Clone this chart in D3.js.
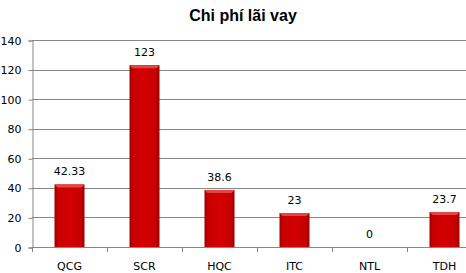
<!DOCTYPE html>
<html>
<head>
<meta charset="utf-8">
<script src="https://cdn.jsdelivr.net/npm/d3@7"></script>
<style>
  body { margin: 0; background: #fff; }
  svg { display: block; }
</style>
</head>
<body>
<div id="chart-area"></div>
<script>
// Data
const categories = ['QCG', 'SCR', 'HQC', 'ITC', 'NTL', 'TDH'];
const values = [42.33, 123, 38.6, 23, 0, 23.7];
const valueLabels = ['42.33', '123', '38.6', '23', '0', '23.7'];
const yTicks = [0, 20, 40, 60, 80, 100, 120, 140];

const width = 466;
const height = 273;
const margin = { left: 32, top: 40, bottom: 26 };
const plotRight = margin.left + 75 * categories.length; // plot runs past the right edge
const plotBottom = height - margin.bottom;

const svg = d3.select('#chart-area')
    .append('svg')
    .attr('width', width)
    .attr('height', height);

// Bar gradient (Excel-ish bevel)
const defs = svg.append('defs');
const grad = defs.append('linearGradient')
    .attr('id', 'barGrad')
    .attr('x1', 0).attr('x2', 1).attr('y1', 0).attr('y2', 0);
grad.append('stop').attr('offset', '0%').attr('stop-color', '#a00000');
grad.append('stop').attr('offset', '12%').attr('stop-color', '#c80000');
grad.append('stop').attr('offset', '50%').attr('stop-color', '#d40000');
grad.append('stop').attr('offset', '88%').attr('stop-color', '#c40000');
grad.append('stop').attr('offset', '100%').attr('stop-color', '#9a0000');

// Scales
const x = d3.scaleBand()
    .domain(categories)
    .range([margin.left, plotRight])
    .paddingInner(0.6)
    .paddingOuter(0.3);

const xBand = d3.scaleBand()
    .domain(categories)
    .range([margin.left, plotRight]);

const y = d3.scaleLinear()
    .domain([0, 140])
    .range([plotBottom, margin.top]);

// Title
svg.append('text')
    .attr('x', 243)
    .attr('y', 21)
    .attr('text-anchor', 'middle')
    .attr('font-family', 'Liberation Sans, Arial, sans-serif')
    .attr('font-weight', 'bold')
    .attr('font-size', '16px')
    .attr('fill', '#000')
    .text('Chi phí lãi vay');

// Gridlines
svg.append('g')
    .selectAll('line')
    .data(yTicks.filter((d) => d > 0))
    .enter()
    .append('line')
    .attr('x1', margin.left)
    .attr('x2', width)
    .attr('y1', (d) => Math.round(y(d)) + 0.5)
    .attr('y2', (d) => Math.round(y(d)) + 0.5)
    .attr('stroke', '#868686')
    .attr('stroke-width', 1);

// Y axis
const yAxisCall = d3.axisLeft(y)
    .tickValues(yTicks)
    .tickSize(4)
    .tickPadding(7);
const yAxisGroup = svg.append('g')
    .attr('transform', `translate(${margin.left + 0.5}, 0.5)`)
    .call(yAxisCall);
yAxisGroup.select('.domain').attr('stroke', '#868686');
yAxisGroup.selectAll('.tick line').attr('stroke', '#868686');
yAxisGroup.selectAll('.tick text')
    .attr('font-family', 'DejaVu Sans, Verdana, sans-serif')
    .attr('font-size', '11px')
    .attr('fill', '#000');

// X axis
svg.append('line')
    .attr('x1', margin.left)
    .attr('x2', width)
    .attr('y1', plotBottom + 0.5)
    .attr('y2', plotBottom + 0.5)
    .attr('stroke', '#868686');

svg.append('g')
    .selectAll('line')
    .data(categories)
    .enter()
    .append('line')
    .attr('x1', (d) => Math.round(xBand(d)) + 0.5)
    .attr('x2', (d) => Math.round(xBand(d)) + 0.5)
    .attr('y1', plotBottom)
    .attr('y2', plotBottom + 5)
    .attr('stroke', '#868686');

svg.append('g')
    .selectAll('text')
    .data(categories)
    .enter()
    .append('text')
    .attr('x', (d) => xBand(d) + xBand.bandwidth() / 2)
    .attr('y', plotBottom + 23)
    .attr('text-anchor', 'middle')
    .attr('font-family', 'DejaVu Sans, Verdana, sans-serif')
    .attr('font-size', '11px')
    .attr('fill', '#000')
    .text((d) => d);

// Bars
const bars = svg.append('g');
categories.forEach((cat, i) => {
    const v = values[i];
    if (v <= 0) return;
    const bx = x(cat);
    const bw = x.bandwidth();
    const top = y(v);
    bars.append('rect')
        .attr('x', bx)
        .attr('y', top)
        .attr('width', bw)
        .attr('height', plotBottom - top)
        .attr('fill', 'url(#barGrad)');
    // top bevel
    bars.append('path')
        .attr('d', `M${bx},${top} L${bx + bw},${top} L${bx + bw - 3},${top + 3} L${bx + 3},${top + 3} Z`)
        .attr('fill', '#e64545');
});

// Value labels
svg.append('g')
    .selectAll('text')
    .data(categories)
    .enter()
    .append('text')
    .attr('x', (d) => xBand(d) + xBand.bandwidth() / 2)
    .attr('y', (d, i) => y(values[i]) - 9)
    .attr('text-anchor', 'middle')
    .attr('font-family', 'DejaVu Sans, Verdana, sans-serif')
    .attr('font-size', '11px')
    .attr('fill', '#000')
    .text((d, i) => valueLabels[i]);
</script>
</body>
</html>
